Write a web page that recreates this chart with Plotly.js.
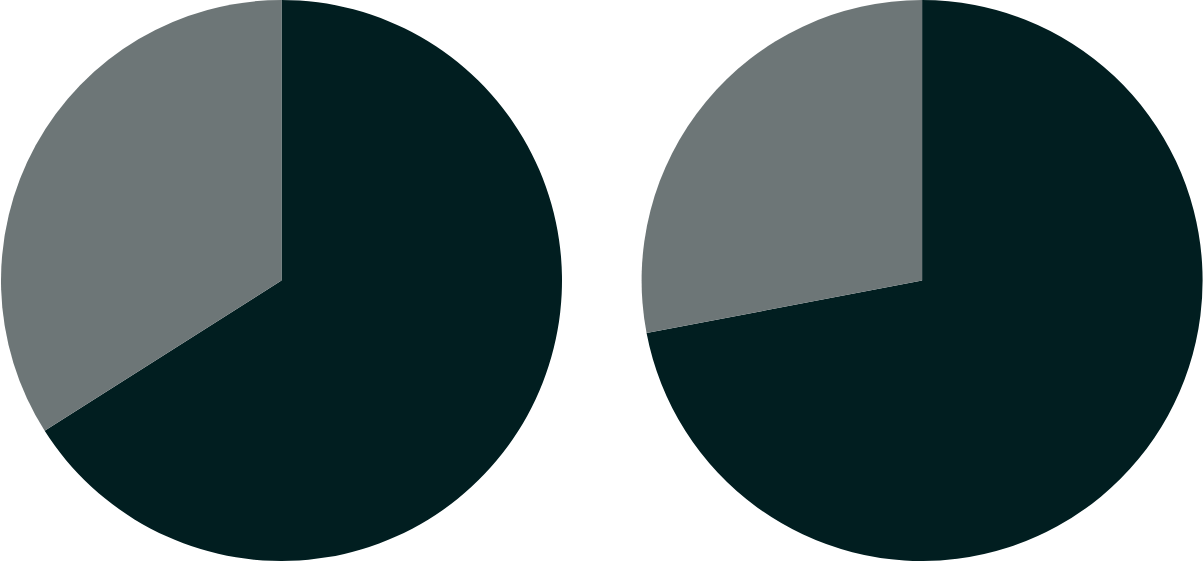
<!DOCTYPE html>
<html>
<head>
<meta charset="utf-8">
<script src="https://cdn.plot.ly/plotly-3.0.1.min.js"></script>
<style>
  html, body { margin: 0; padding: 0; background: #fff; }
  #chart { width: 1203px; height: 561px; }
</style>
</head>
<body>
<div id="chart"></div>
<script>
// Two pies, dark share first (clockwise from 12 o'clock)
const labels = ['Dark', 'Grey'];
const leftValues = [66, 34];
const rightValues = [72, 28];
const sliceColors = ['#011e20', '#6d7677'];

function pieTrace(values, xDomain) {
    return {
        type: 'pie',
        labels: labels,
        values: values,
        sort: false,
        direction: 'clockwise',
        rotation: 0,
        textinfo: 'none',
        hoverinfo: 'label+percent',
        marker: {colors: sliceColors, line: {width: 0}},
        domain: {x: xDomain, y: [0, 1]}
    };
}

const layout = {
    width: 1203,
    height: 561,
    showlegend: false,
    paper_bgcolor: '#ffffff',
    margin: {l: 0, r: 0, t: 0, b: 0}
};

Plotly.newPlot('chart', [
    pieTrace(leftValues, [0, 0.468]),
    pieTrace(rightValues, [0.533, 1])
], layout, {displayModeBar: false, staticPlot: true});
</script>
</body>
</html>
